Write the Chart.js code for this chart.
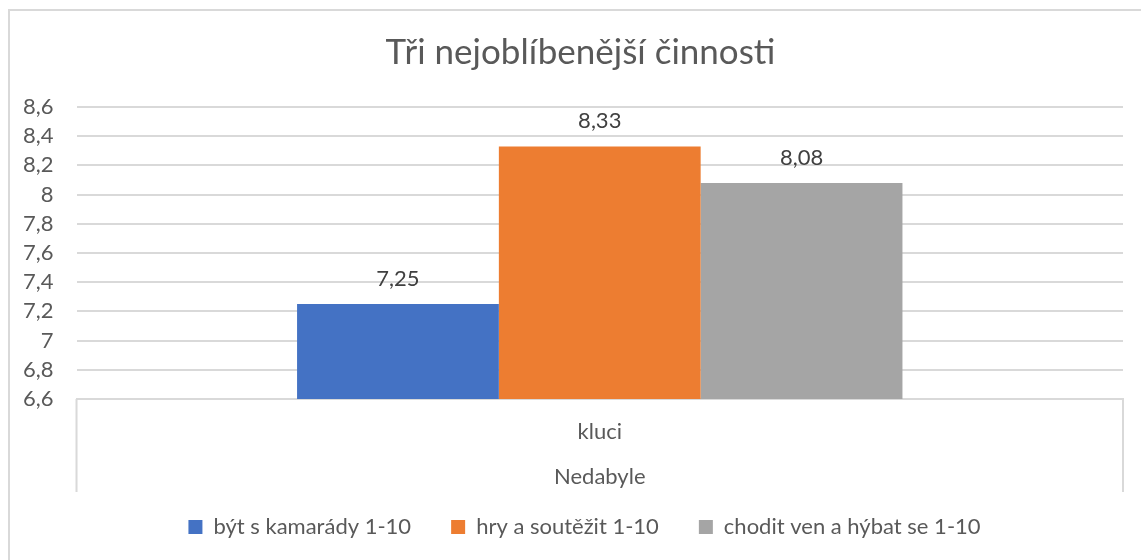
<!DOCTYPE html>
<html>
<head>
<meta charset="utf-8">
<script src="https://cdn.jsdelivr.net/npm/chart.js@4"></script>
<style>
  body { margin: 0; background: #fff; overflow: hidden; }
  #frame { position: absolute; left: 8px; top: 9px; width: 1200px; height: 600px; border: 2px solid #d9d9d9; }
  #wrap { position: absolute; left: 0; top: 0; width: 1141px; height: 560px; }
</style>
</head>
<body>
<div id="frame"></div>
<div id="wrap"><canvas id="chart"></canvas></div>
<script>
// data
const categories = ['kluci'];
const groupName = 'Nedabyle';
const seriesNames = ['být s kamarády 1-10', 'hry a soutěžit 1-10', 'chodit ven a hýbat se 1-10'];
const kamaradi = [7.25];
const hry = [8.33];
const venku = [8.08];
const seriesColors = ['#4472C4', '#ED7D31', '#A5A5A5'];

const textColor = '#595959';
const lineColor = '#d9d9d9';
const fontFamily = 'Lato, "Open Sans", sans-serif';
const legendPad = 40;

function czNum(v) {
    return Number(v.toFixed(2)).toString().replace('.', ',');
}

// value labels above bars (no datalabels plugin offline)
const valueLabels = {
    id: 'valueLabels',
    afterDatasetsDraw(chart) {
        const ctx = chart.ctx;
        ctx.save();
        ctx.font = '22px ' + fontFamily;
        ctx.fillStyle = '#404040';
        ctx.textAlign = 'center';
        ctx.textBaseline = 'alphabetic';
        chart.data.datasets.forEach((ds, i) => {
            chart.getDatasetMeta(i).data.forEach((bar, j) => {
                ctx.fillText(czNum(ds.data[j]), bar.x, bar.y - 18);
            });
        });
        ctx.restore();
    }
};

// side lines of the category box under the plot, like Excel's multi-level axis
const categoryBox = {
    id: 'categoryBox',
    afterDraw(chart) {
        const {ctx, chartArea} = chart;
        const x = chart.scales.x;
        ctx.save();
        ctx.strokeStyle = lineColor;
        ctx.lineWidth = 2;
        ctx.beginPath();
        [chartArea.left, chartArea.right].forEach(px => {
            ctx.moveTo(px, chartArea.bottom);
            ctx.lineTo(px, x.bottom + 2);
        });
        ctx.stroke();
        ctx.restore();
    }
};

// Excel centres title and legend on the whole frame, not on the plot
const frameCentre = {
    id: 'frameCentre',
    afterLayout(chart) {
        chart.titleBlock.left += 38;
        const lg = chart.legend;
        const h = lg.bottom - lg.top;
        lg.left += 46;
        lg.top = 527 - legendPad - 11;
        lg.bottom = lg.top + h;
    }
};

const values = [kamaradi, hry, venku];

new Chart(document.getElementById('chart'), {
    type: 'bar',
    data: {
        labels: categories.map(c => [c, groupName]),
        datasets: seriesNames.map((name, i) => ({
            label: name,
            data: values[i],
            backgroundColor: seriesColors[i],
            borderWidth: 0,
            categoryPercentage: 0.5785,
            barPercentage: 1
        }))
    },
    options: {
        responsive: true,
        maintainAspectRatio: false,
        animation: false,
        layout: {padding: {top: 20, left: 0, right: 18, bottom: -2}},
        plugins: {
            title: {
                display: true,
                text: 'Tři nejoblíbenější činnosti',
                color: textColor,
                font: {family: fontFamily, size: 35, weight: 'normal', lineHeight: 1.2},
                padding: {top: 12, bottom: 33}
            },
            legend: {
                position: 'bottom',
                labels: {
                    color: textColor,
                    font: {family: fontFamily, size: 22},
                    boxWidth: 14,
                    boxHeight: 14,
                    padding: legendPad
                }
            },
            tooltip: {enabled: false}
        },
        scales: {
            x: {
                offset: true,
                grid: {display: true, drawOnChartArea: false, drawTicks: false},
                border: {display: true, color: lineColor, width: 2},
                ticks: {
                    color: textColor,
                    font: {family: fontFamily, size: 22, lineHeight: 2.05},
                    padding: 10
                },
                afterFit: s => { s.height = 91; }
            },
            y: {
                min: 6.6,
                max: 8.6,
                ticks: {
                    stepSize: 0.2,
                    autoSkip: false,
                    color: textColor,
                    font: {family: fontFamily, size: 22},
                    padding: 23,
                    callback: v => Number(v.toFixed(1)).toString().replace('.', ',')
                },
                grid: {color: lineColor, lineWidth: 2, drawTicks: false},
                border: {display: false}
            }
        }
    },
    plugins: [valueLabels, categoryBox, frameCentre]
});
</script>
</body>
</html>
